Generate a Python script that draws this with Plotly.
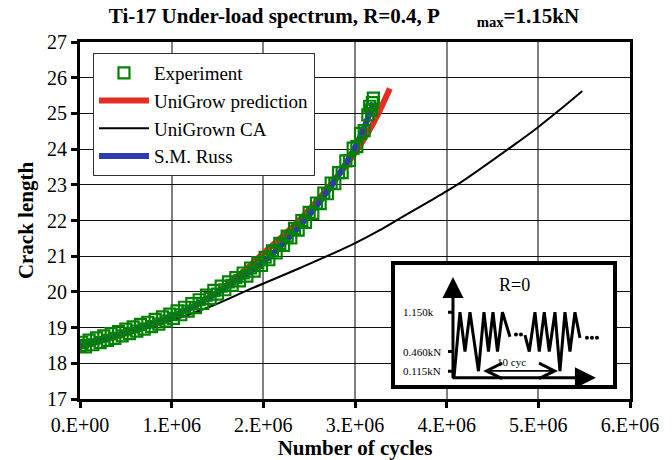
import plotly.graph_objects as go

# ---------------- data (x in millions of cycles) ----------------
exp_x = [0.00, 0.02, 0.06, 0.10, 0.14, 0.18, 0.22, 0.26, 0.30, 0.34, 0.38, 0.42, 0.46, 0.50,
         0.54, 0.58, 0.62, 0.66, 0.70, 0.74, 0.78, 0.82, 0.86, 0.90, 0.94, 0.98, 1.02, 1.06,
         1.10, 1.14, 1.18, 1.22, 1.26, 1.30, 1.34, 1.38, 1.42, 1.46, 1.50, 1.54, 1.58, 1.62,
         1.66, 1.70, 1.74, 1.78, 1.82, 1.86, 1.90, 1.94, 1.98, 2.02, 2.06, 2.10, 2.14, 2.18,
         2.22, 2.26, 2.30, 2.34, 2.38, 2.42, 2.46, 2.50, 2.54, 2.58, 2.62, 2.66, 2.70, 2.74,
         2.78, 2.82, 2.86, 2.90, 2.94, 2.98, 3.02, 3.06, 3.10, 3.14, 3.16, 3.18, 3.19, 3.20]
exp_y = [18.50, 18.59, 18.46, 18.65, 18.52, 18.71, 18.58, 18.77, 18.64, 18.83, 18.70, 18.89,
         18.77, 18.96, 18.83, 19.02, 18.90, 19.09, 18.96, 19.15, 19.03, 19.23, 19.10, 19.30,
         19.18, 19.38, 19.26, 19.47, 19.36, 19.57, 19.46, 19.67, 19.56, 19.78, 19.68, 19.91,
         19.81, 20.04, 19.94, 20.16, 20.06, 20.28, 20.18, 20.40, 20.31, 20.53, 20.44, 20.67,
         20.58, 20.82, 20.74, 20.97, 20.90, 21.15, 21.09, 21.36, 21.30, 21.56, 21.51, 21.78,
         21.73, 22.00, 21.95, 22.23, 22.20, 22.49, 22.47, 22.77, 22.75, 23.05, 23.03, 23.34,
         23.34, 23.67, 23.68, 24.03, 24.07, 24.44, 24.52, 24.96, 25.20, 25.09, 25.30, 25.43]

unigrow_x = [0, 0.25, 0.5, 0.75, 1.0, 1.25, 1.5, 1.75, 2.0, 2.25, 2.5, 2.75, 3.0, 3.15, 3.25, 3.38]
unigrow_y = [18.45, 18.64, 18.84, 19.06, 19.30, 19.60, 20.00, 20.50, 21.08, 21.65, 22.30,
             23.05, 23.90, 24.50, 24.98, 25.70]

ca_x = [0, 0.5, 1.0, 1.45, 1.83, 2.4, 2.98, 3.27, 3.49, 3.96, 4.15, 4.72, 4.99, 5.2, 5.48]
ca_y = [18.45, 18.80, 19.20, 19.62, 20.05, 20.67, 21.34, 21.73, 22.06, 22.76, 23.06, 24.09,
        24.60, 25.03, 25.63]

russ_x = [0, 0.5, 1.0, 1.5, 1.75, 2.0, 2.25, 2.5, 2.75, 3.0, 3.1, 3.2]
russ_y = [18.48, 18.86, 19.30, 19.98, 20.38, 20.84, 21.44, 22.15, 23.00, 24.05, 24.60, 25.30]

x_tick_vals = [0, 1, 2, 3, 4, 5, 6]
x_tick_text = ["0.E+00", "1.E+06", "2.E+06", "3.E+06", "4.E+06", "5.E+06", "6.E+06"]
y_tick_vals = [17, 18, 19, 20, 21, 22, 23, 24, 25, 26, 27]

# inset schematic (R=0 under-load spectrum): time units vs load [kN]
wave1_t = [1, 7, 12, 17, 25.5, 31, 35.5, 40, 44.5, 49.5, 57]
wave1_p = [0.0, 1.15, 0.46, 1.15, 0.115, 1.15, 0.46, 1.15, 0.46, 1.15, 0.72]
wave2_t = [72, 76.3, 82, 86.3, 91.3, 96.3, 102, 107, 112, 117, 122, 127]
wave2_p = [0.75, 0.46, 1.15, 0.46, 1.15, 0.46, 1.15, 0.115, 1.15, 0.46, 1.15, 0.70]
dots_t = [63, 68, 134, 139, 144]
dots_p = [0.76, 0.76, 0.70, 0.70, 0.70]
load_levels = [1.15, 0.46, 0.115]
load_labels = ["1.150k", "0.460kN", "0.115kN"]
cyc_start, cyc_end, cyc_level = 28.7, 105, 0.12

SERIF = "Liberation Serif"
M = 1e6

fig = go.Figure()

fig.add_trace(go.Scatter(x=[v * M for v in unigrow_x], y=unigrow_y, mode="lines",
                         name="UniGrow prediction", legendrank=2,
                         line=dict(color="rgb(228,45,35)", width=6, shape="spline")))
fig.add_trace(go.Scatter(x=[v * M for v in ca_x], y=ca_y, mode="lines",
                         name="UniGrown CA", legendrank=3,
                         line=dict(color="black", width=2, shape="spline")))
fig.add_trace(go.Scatter(x=[v * M for v in russ_x], y=russ_y, mode="lines",
                         name="S.M. Russ", legendrank=4,
                         line=dict(color="rgb(45,60,170)", width=6, shape="spline")))
fig.add_trace(go.Scatter(x=[v * M for v in exp_x], y=exp_y, mode="markers",
                         name="Experiment", legendrank=1,
                         marker=dict(symbol="square-open", size=11, color="rgb(0,130,0)",
                                     line=dict(width=2.2, color="rgb(0,130,0)"))))

# ---- inset traces ----
wave_t = wave1_t + [None] + wave2_t
wave_p = wave1_p + [None] + wave2_p
fig.add_trace(go.Scatter(x=wave_t, y=wave_p, mode="lines", xaxis="x2", yaxis="y2",
                         showlegend=False, hoverinfo="skip",
                         line=dict(color="black", width=3)))
fig.add_trace(go.Scatter(x=dots_t, y=dots_p, mode="markers", xaxis="x2", yaxis="y2",
                         showlegend=False, hoverinfo="skip",
                         marker=dict(color="black", size=4)))
tick_t, tick_p = [], []
for lv in load_levels:
    tick_t += [-5, 0, None]
    tick_p += [lv, lv, None]
fig.add_trace(go.Scatter(x=tick_t, y=tick_p, mode="lines", xaxis="x2", yaxis="y2",
                         showlegend=False, hoverinfo="skip",
                         line=dict(color="black", width=3)))

annotations = [
    dict(x=0, y=1.77, ax=0, ay=-0.03, xref="x2", yref="y2", axref="x2", ayref="y2",
         text="", showarrow=True, arrowhead=2, arrowsize=1.4, arrowwidth=3, arrowcolor="black"),
    dict(x=143, y=0, ax=-2, ay=0, xref="x2", yref="y2", axref="x2", ayref="y2",
         text="", showarrow=True, arrowhead=2, arrowsize=1.4, arrowwidth=3, arrowcolor="black"),
    dict(x=cyc_end, y=cyc_level, ax=cyc_start, ay=cyc_level, xref="x2", yref="y2",
         axref="x2", ayref="y2", text="", showarrow=True, arrowside="end+start",
         arrowhead=5, startarrowhead=5, arrowsize=1.7, startarrowsize=1.7,
         arrowwidth=1.8, arrowcolor="black"),
    dict(x=59, y=0.27, xref="x2", yref="y2", text="10 cyc", showarrow=False,
         font=dict(family=SERIF, size=11, color="black")),
    dict(x=62, y=1.62, xref="x2", yref="y2", text="R=0", showarrow=False,
         font=dict(family=SERIF, size=18, color="black")),
]
for lv, lb in zip(load_levels, load_labels):
    annotations.append(dict(x=-52, y=lv, xref="x2", yref="y2", text=lb, showarrow=False,
                            xanchor="left", yanchor="middle",
                            font=dict(family=SERIF, size=11, color="black")))

fig.update_layout(
    width=672, height=460,
    margin=dict(l=80, r=42, t=42, b=61, pad=0, autoexpand=False),
    paper_bgcolor="white", plot_bgcolor="white",
    font=dict(family=SERIF, size=20, color="black"),
    title=dict(text="Ti-17 Under-load spectrum, R=0.4, P\u00a0\u00a0\u00a0\u00a0\u00a0\u00a0\u00a0<sub>max</sub>=1.15kN",
               font=dict(family=SERIF, size=21, color="black", weight="bold"),
               x=0.48, xref="paper", xanchor="center", y=0.967, yanchor="middle"),
    xaxis=dict(range=[0, 6 * M], tickvals=[v * M for v in x_tick_vals], ticktext=x_tick_text,
               showgrid=True, gridcolor="#808080", gridwidth=1.8, automargin=False,
               showline=True, linecolor="black", linewidth=3, mirror=True,
               ticks="outside", ticklen=6, tickwidth=3, tickcolor="black",
               zeroline=False, tickfont=dict(family=SERIF, size=20),
               title=dict(text="Number of cycles", standoff=6,
                          font=dict(family=SERIF, size=21, weight="bold"))),
    yaxis=dict(range=[17, 27], tickvals=y_tick_vals, automargin=False,
               showgrid=True, gridcolor="#111111", gridwidth=1,
               showline=True, linecolor="black", linewidth=3, mirror=True,
               ticks="outside", ticklen=6, tickwidth=3, tickcolor="black",
               zeroline=False, tickfont=dict(family=SERIF, size=20),
               title=dict(text="Crack length", standoff=8,
                          font=dict(family=SERIF, size=21, weight="bold"))),
    xaxis2=dict(domain=[0.5727, 0.969], range=[-58, 160], anchor="y2",
                showgrid=False, zeroline=False, showticklabels=False, ticks="",
                showline=True, linecolor="black", linewidth=3.5, mirror=True, fixedrange=True),
    yaxis2=dict(domain=[0.0392, 0.375], range=[-0.128, 1.977], anchor="x2",
                showgrid=False, zeroline=False, showticklabels=False, ticks="",
                showline=True, linecolor="black", linewidth=3.5, mirror=True, fixedrange=True),
    legend=dict(x=0.0236, y=0.969, xanchor="left", yanchor="top",
                bgcolor="white", bordercolor="#333333", borderwidth=1,
                font=dict(family=SERIF, size=19, color="black"), itemwidth=50,
                tracegroupgap=0),
    annotations=annotations,
)

fig.write_html("out.html")
